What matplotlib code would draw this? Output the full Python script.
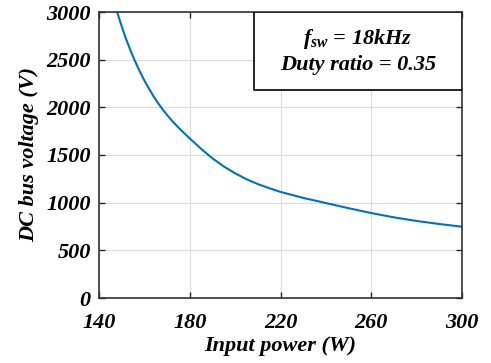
import matplotlib
matplotlib.use('Agg')
import matplotlib.pyplot as plt
from matplotlib.patches import Rectangle

# values
power = [148, 150, 152, 154, 156, 158, 160, 162, 164, 166, 168, 170, 172,
         175, 178, 180, 185, 190, 195, 200, 205, 210, 215, 220, 230, 240,
         250, 260, 270, 280, 290, 300]
voltage = [3000, 2850, 2712, 2590, 2478, 2375, 2282, 2196, 2117, 2045, 1980,
           1920, 1864, 1788, 1718, 1674, 1565, 1465, 1380, 1308, 1246, 1195,
           1152, 1113, 1050, 996, 942, 891, 846, 808, 776, 748]
xticks = [140, 180, 220, 260, 300]
yticks = [0, 500, 1000, 1500, 2000, 2500, 3000]

plt.rcParams['font.family'] = 'Liberation Serif'
plt.rcParams['font.weight'] = 'bold'
plt.rcParams['font.style'] = 'italic'
plt.rcParams['mathtext.fontset'] = 'custom'
plt.rcParams['mathtext.rm'] = 'Liberation Serif:bold:italic'
plt.rcParams['mathtext.it'] = 'Liberation Serif:bold:italic'
plt.rcParams['mathtext.bf'] = 'Liberation Serif:bold:italic'

fig = plt.figure(figsize=(4.91, 3.63), dpi=100)
ax = fig.add_axes([99 / 491, 1 - 298 / 363, 363 / 491, 286 / 363])

ax.plot(power, voltage, color='#0072BD', linewidth=1.5)

ax.set_xlim(140, 300)
ax.set_ylim(0, 3000)
ax.set_xticks(xticks)
ax.set_yticks(yticks)
ax.tick_params(direction='in', length=4, width=1, top=True, right=True,
               labelsize=16, colors='#262626')
ax.tick_params(axis='x', pad=11)
ax.tick_params(axis='y', pad=6)
for lab in ax.get_xticklabels() + ax.get_yticklabels():
    lab.set_color('black')
ax.grid(True, color='#dcdcdc', linewidth=0.8)
for s in ax.spines.values():
    s.set_color('#333333')
    s.set_linewidth(1.2)

ax.set_xlabel('Input power (W)', fontsize=16, fontweight='bold', labelpad=2)
ax.set_ylabel('DC bus voltage (V)', fontsize=16, fontweight='bold', labelpad=5)

# annotation box in the upper right
ax.add_patch(Rectangle((0.427, 0.727), 0.573, 0.273, transform=ax.transAxes,
                       facecolor='white', edgecolor='black', linewidth=1.2,
                       zorder=5))
ax.text(0.713, 0.905, r'$f_{sw}$ = 18kHz', transform=ax.transAxes,
        ha='center', va='center', fontsize=16, zorder=6)
ax.text(0.713, 0.815, 'Duty ratio = 0.35', transform=ax.transAxes,
        ha='center', va='center', fontsize=16, zorder=6)

plt.savefig('out.png', dpi=100)
